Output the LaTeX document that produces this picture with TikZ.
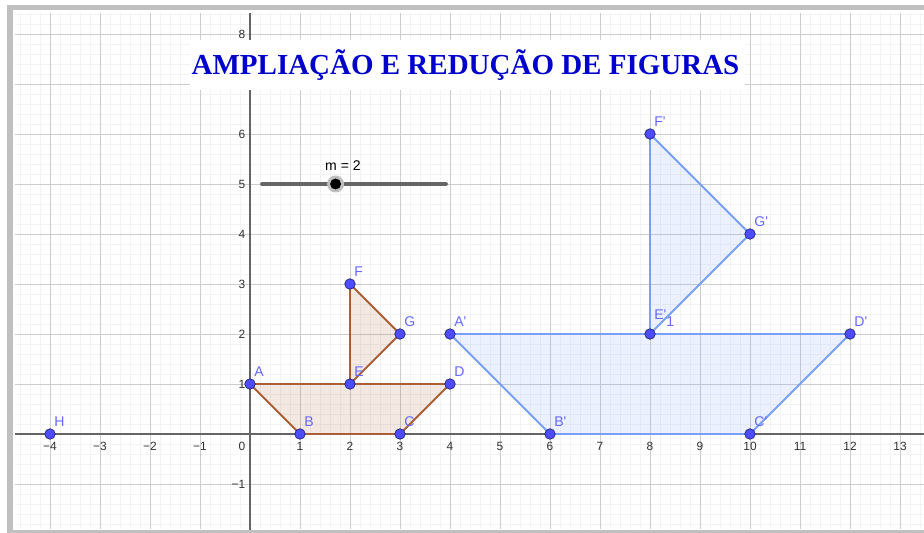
\documentclass[tikz,border=0pt]{standalone}
\usepackage{fontspec}
\setmainfont{Liberation Sans}
\newfontfamily\titlefont{Liberation Serif}
\usepackage{tikz}
\usetikzlibrary{calc}

\definecolor{ggbrown}{RGB}{170,95,55}
\definecolor{ggblue}{RGB}{120,160,250}
\definecolor{ggpoint}{RGB}{77,77,255}
\definecolor{ggtitle}{RGB}{0,0,204}
\definecolor{ggaxis}{RGB}{100,100,100}
\definecolor{ggmajor}{RGB}{205,205,205}
\definecolor{ggminor}{RGB}{243,243,243}
\definecolor{ggframe}{RGB}{192,192,192}

\begin{document}
\begin{tikzpicture}[
  pt/.style={circle,draw=ggpoint!45!black,fill=ggpoint,line width=0.4pt,inner sep=0pt,minimum size=0.21cm},
  lbl/.style={text=ggpoint!85!white,font=\fontsize{8}{9}\selectfont,inner sep=0pt,anchor=south west},
  tick/.style={font=\fontsize{6.8}{7}\selectfont,text=black!80,inner sep=0pt}]
\useasboundingbox (-5,-1.98) rectangle (13.48,8.68);
% frame
\fill[white] (-5,-1.98) rectangle (13.48,8.68);
\fill[ggframe] (-4.86,8.48) rectangle (13.48,8.58);
\fill[ggframe] (-4.86,-1.98) rectangle (-4.74,8.58);
\fill[ggframe] (-4.86,-1.98) rectangle (13.48,-1.93);
% grid and axes
\draw[ggminor,line width=0.4pt] (-4.7,-1.9) grid[step=0.2] (13.48,8.42);
\draw[ggmajor,line width=0.55pt] (-4.7,-1.9) grid[step=1] (13.48,8.42);
\draw[ggaxis,line width=0.6pt] (-4.7,0) -- (13.48,0);
\draw[ggaxis,line width=0.6pt] (0,-1.92) -- (0,8.42);
\foreach \x in {1,...,13} \node[tick] (xt\x) at (\x,-0.24) {\x};
\foreach \x in {1,...,4} \node[tick] (xn\x) at (-\x,-0.24) {−\x};
\node[tick] (o) at (-0.16,-0.24) {0};
\foreach \y in {1,...,6,8} \node[tick,anchor=east] (yt\y) at (-0.09,\y) {\y};
\node[tick,anchor=east] (yn1) at (-0.09,-1) {−1};

% figura original
\coordinate (A) at (0,1);
\coordinate (B) at (1,0);
\coordinate (C) at (3,0);
\coordinate (D) at (4,1);
\coordinate (E) at (2,1);
\coordinate (F) at (2,3);
\coordinate (G) at (3,2);
\filldraw[ggbrown,fill opacity=0.14,line width=1.1pt,line join=round] (A) -- (B) -- (C) -- (D) -- cycle;
\filldraw[ggbrown,fill opacity=0.14,line width=1.1pt,line join=round] (E) -- (F) -- (G) -- cycle;

% figura ampliada (m=2, centro H)
\coordinate (H) at (-4,0);
\coordinate (A1) at (4,2);
\coordinate (B1) at (6,0);
\coordinate (C1) at (10,0);
\coordinate (D1) at (12,2);
\coordinate (E1) at (8,2);
\coordinate (F1) at (8,6);
\coordinate (G1) at (10,4);
\filldraw[ggblue,fill opacity=0.14,line width=1.1pt,line join=round] (A1) -- (B1) -- (C1) -- (D1) -- cycle;
\filldraw[ggblue,fill opacity=0.14,line width=1.1pt,line join=round] (E1) -- (F1) -- (G1) -- cycle;

% pontos
\foreach \p in {A,B,C,D,E,F,G,H}{
  \node[pt] (p\p) at (\p) {};
  \node[lbl] (l\p) at ($(\p)+(0.08,0.15)$) {\p};
}
\foreach \p in {A,B,C,D,F,G}{
  \node[pt] (p\p1) at (\p1) {};
  \node[lbl] (l\p1) at ($(\p1)+(0.08,0.15)$) {\p\textquotesingle};
}
\node[pt] (pE1) at (E1) {};
\node[lbl] (lE1) at ($(E1)+(0.08,0.15)$) {E\textquotesingle\raisebox{-0.14cm}{1}};

% controle deslizante
\coordinate (mmin) at (0.24,5);
\coordinate (mmax) at (3.92,5);
\draw[black!60,line width=2.2pt,line cap=round] (mmin) -- (mmax);
\fill[black!25] ($(mmin)!0.4!(mmax)$) circle (0.17);
\node[circle,fill=black,inner sep=0pt,minimum size=0.22cm] (knob) at ($(mmin)!0.4!(mmax)$) {};
\node[font=\fontsize{8}{9}\selectfont,inner sep=0pt] (mval) at (1.86,5.37) {m = 2};

% titulo
\node[fill=white,minimum width=11.1cm,minimum height=1cm] (box) at (4.35,7.38) {};
\node[font=\titlefont\bfseries\fontsize{16.5}{18}\selectfont,text=ggtitle,inner sep=0pt] (title) at (4.31,7.38) {AMPLIAÇÃO E REDUÇÃO DE FIGURAS};
\end{tikzpicture}
\end{document}
